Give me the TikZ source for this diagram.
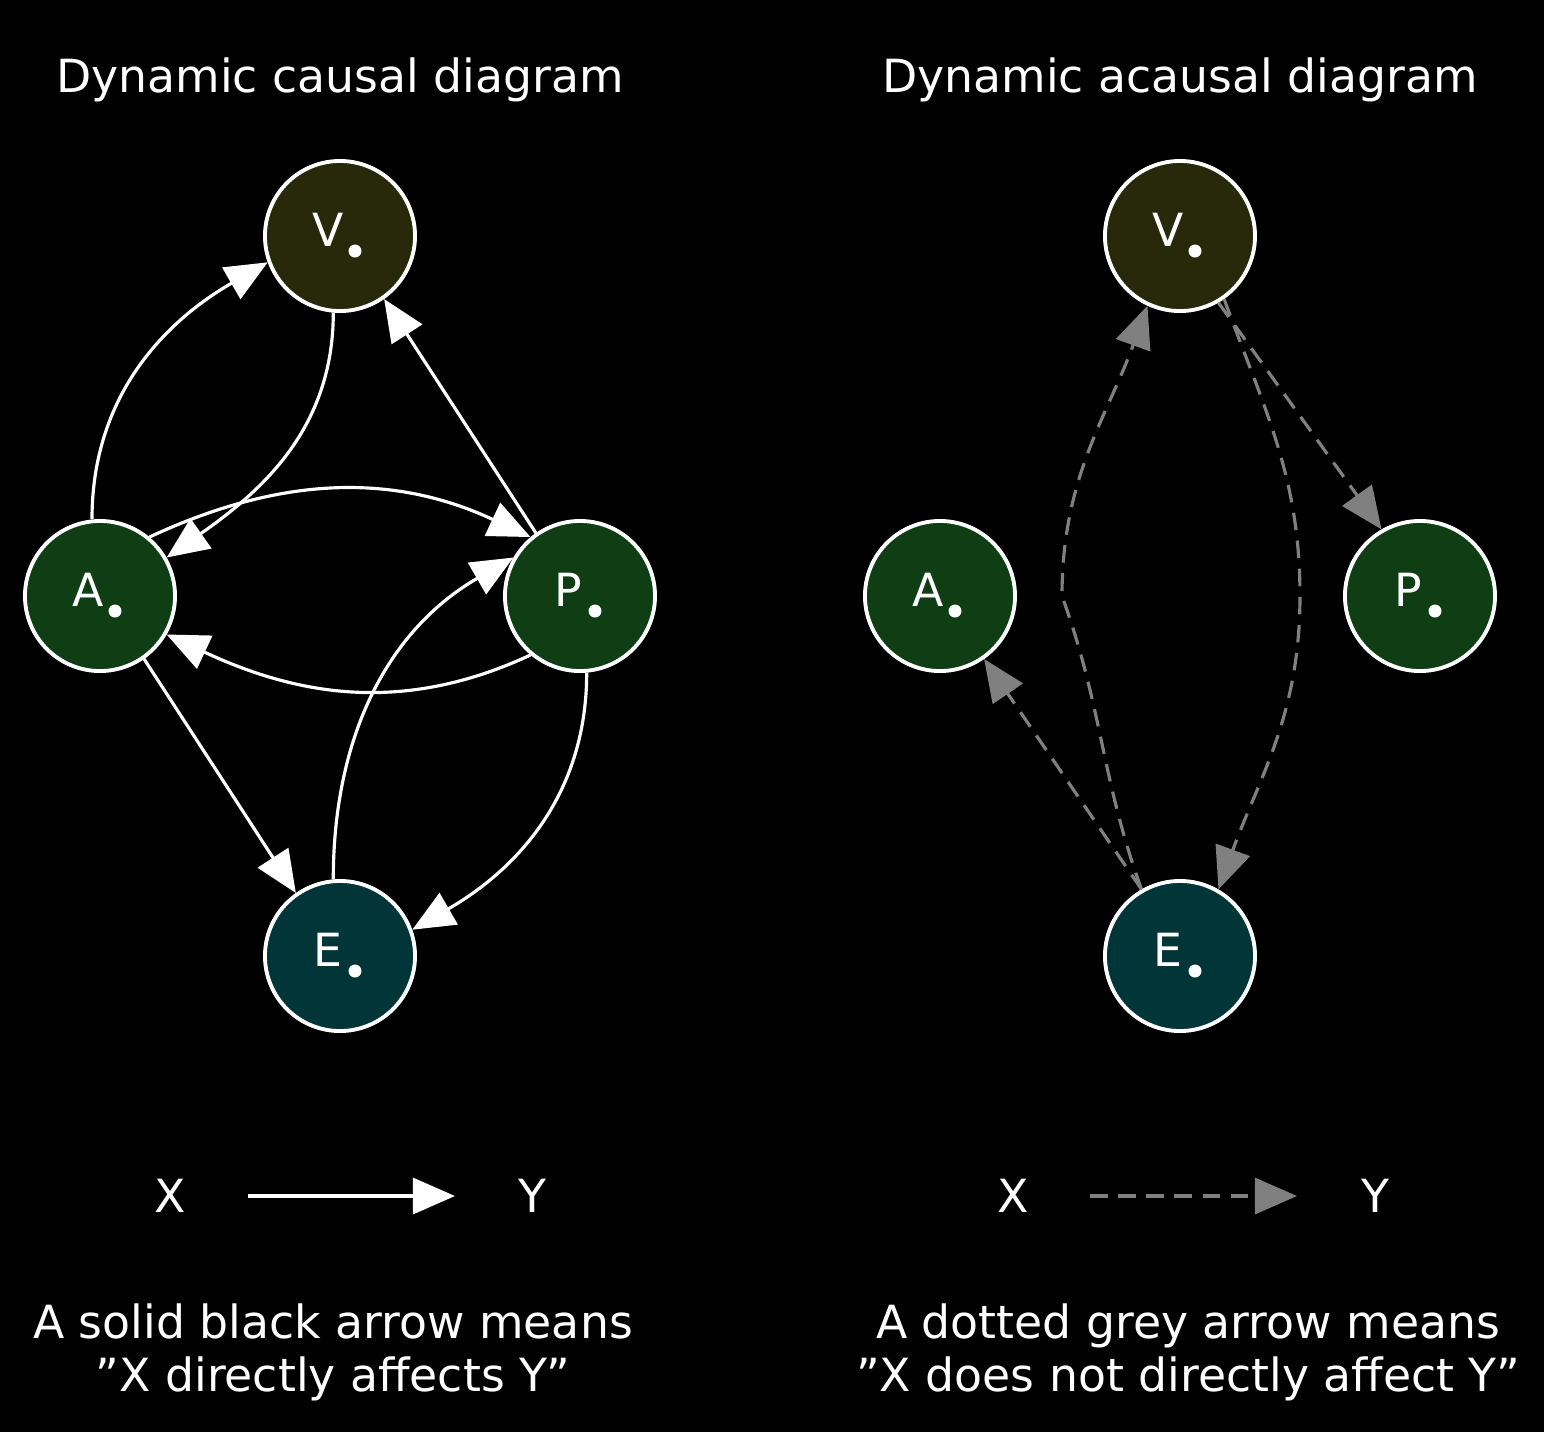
\documentclass[tikz,border=0pt]{standalone}
\usepackage{fontspec}
\setmainfont{DejaVu Sans}
\usetikzlibrary{arrows.meta}
\begin{document}
\begin{tikzpicture}[x=0.01cm,y=-0.01cm,
 nd/.style={circle,draw=white,line width=1.1pt,minimum size=1.5cm,inner sep=0pt},
 txt/.style={text=white,font=\fontsize{13}{15}\selectfont},
 sol/.style={white,line width=0.9pt,-{Triangle[length=0.42cm,width=0.36cm]}},
 dsh/.style={gray,line width=0.9pt,dash pattern=on 5pt off 3pt,-{Triangle[length=0.42cm,width=0.36cm]}}]
\fill[black] (0,0) rectangle (1544,1432);
\useasboundingbox (0,0) rectangle (1544,1432);
\definecolor{cv}{HTML}{28290A}\definecolor{ca}{HTML}{0F3D14}\definecolor{ce}{HTML}{023537}
\newcommand{\mynode}[5]{\node[nd,fill=#4] (#1) at (#2,#3) {};
 \node[txt,anchor=center] at (#2-12,#3-6) {#5};
 \fill[white] (#2+15,#3+15) circle (6.5);}
\mynode{V}{340}{236}{cv}{V}
\mynode{A}{100}{596}{ca}{A}
\mynode{P}{580}{596}{ca}{P}
\mynode{E}{340}{956}{ce}{E}
\mynode{V2}{1180}{236}{cv}{V}
\mynode{A2}{940}{596}{ca}{A}
\mynode{P2}{1420}{596}{ca}{P}
\mynode{E2}{1180}{956}{ce}{E}
\node[txt] (t1) at (340,80) {Dynamic causal diagram};
\node[txt] (t2) at (1180,80) {Dynamic acausal diagram};
% left edges
\draw[sol] (A.north west) ++(0,0) (A.90)++(-8,0) to[out=90,in=210] (V.200);
\draw[sol] (V.265) to[out=-90,in=35] (A.30);
\draw[sol] (A.50) to[out=25,in=155] (P.130);
\draw[sol] (P.230) to[out=205,in=-25] (A.-30);
\draw[sol] (P.125) -- (V.-55);
\draw[sol] (A.-55) -- (E.125);
\draw[sol] (E.95) to[out=90,in=210] (P.150);
\draw[sol] (P.-85) to[out=-90,in=30] (E.20);
% right edges
\draw[dsh] (E2.120) -- (A2.-55);
\draw[dsh] (E2.120) to[out=110,in=-70] (1062,596) to[out=90,in=-110] (V2.-115);
\draw[dsh] (V2.-55) to[out=-70,in=90] (1300,596) to[out=-90,in=70] (E2.60);
\draw[dsh] (V2.-60) -- (P2.120);
% legend
\node[txt] (x1) at (170,1196) {X};
\node[txt] (y1) at (532,1196) {Y};
\draw[sol] (248,1196) -- (455,1196);
\node[txt] (x2) at (1013,1196) {X};
\node[txt] (y2) at (1375,1196) {Y};
\draw[dsh] (1090,1196) -- (1297,1196);
\node[txt,align=center] (b1) at (333,1352) {A solid black arrow means\\"X directly affects Y"};
\node[txt,align=center] (b2) at (1188,1352) {A dotted grey arrow means\\"X does not directly affect Y"};
\end{tikzpicture}
\end{document}
